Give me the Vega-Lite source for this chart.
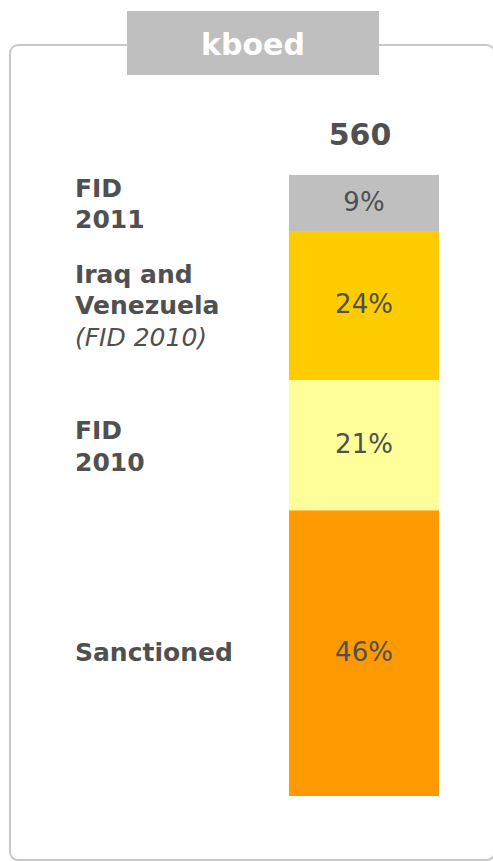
{
  "$schema": "https://vega.github.io/schema/vega-lite/v6.json",
  "width": 493,
  "height": 861,
  "autosize": {"type": "fit", "contains": "padding"},
  "padding": 0,
  "background": "white",
  "config": {"view": {"stroke": null}},
  "data": {
    "values": [
      {"segment": "Sanctioned", "label": "Sanctioned", "note": "", "share": 0.46, "order": 1},
      {"segment": "FID 2010", "label": "FID\n2010", "note": "", "share": 0.21, "order": 2},
      {"segment": "Iraq and Venezuela", "label": "Iraq and\nVenezuela", "note": "(FID 2010)", "share": 0.24, "order": 3},
      {"segment": "FID 2011", "label": "FID\n2011", "note": "", "share": 0.09, "order": 4}
    ]
  },
  "transform": [
    {"stack": "share", "groupby": [], "sort": [{"field": "order", "order": "ascending"}], "as": ["y0", "y1"]},
    {"calculate": "(datum.y0 + datum.y1) / 2", "as": "mid"}
  ],
  "encoding": {
    "x": {"type": "quantitative", "scale": {"domain": [0, 100], "nice": false, "zero": false}, "axis": null},
    "y": {"type": "quantitative", "scale": {"domain": [-0.10467, 1.2818], "nice": false, "zero": false}, "axis": null}
  },
  "layer": [
    {
      "data": {"values": [{}]},
      "mark": {"type": "rect", "fill": null, "stroke": "#C8C8C8", "strokeWidth": 2, "cornerRadius": 8, "clip": true},
      "encoding": {
        "x": {"datum": 2.03, "type": "quantitative"},
        "x2": {"datum": 100.3},
        "y": {"datum": 1.20934, "type": "quantitative"},
        "y2": {"datum": -0.1031}
      }
    },
    {
      "data": {"values": [{}]},
      "mark": {"type": "rect", "fill": "#BFBFBF"},
      "encoding": {
        "x": {"datum": 25.76, "type": "quantitative"},
        "x2": {"datum": 76.88},
        "y": {"datum": 1.26409, "type": "quantitative"},
        "y2": {"datum": 1.16103}
      }
    },
    {
      "data": {"values": [{}]},
      "mark": {"type": "text", "text": "kboed", "font": "DejaVu Sans", "fontWeight": "bold", "fontSize": 30, "color": "white", "align": "center", "baseline": "alphabetic"},
      "encoding": {
        "x": {"datum": 51.32, "type": "quantitative"},
        "y": {"datum": 1.19275, "type": "quantitative"}
      }
    },
    {
      "data": {"values": [{}]},
      "mark": {"type": "text", "text": "560", "font": "DejaVu Sans", "fontWeight": "bold", "fontSize": 30, "color": "#505050", "align": "center", "baseline": "alphabetic"},
      "encoding": {
        "x": {"datum": 73.02, "type": "quantitative"},
        "y": {"datum": 1.04783, "type": "quantitative"}
      }
    },
    {
      "mark": {"type": "rect"},
      "encoding": {
        "x": {"datum": 58.62, "type": "quantitative"},
        "x2": {"datum": 89.05},
        "y": {"field": "y0", "type": "quantitative"},
        "y2": {"field": "y1"},
        "color": {
          "field": "segment",
          "type": "nominal",
          "scale": {
            "domain": ["Sanctioned", "FID 2010", "Iraq and Venezuela", "FID 2011"],
            "range": ["#FF9900", "#FFFF99", "#FFCC00", "#BFBFBF"]
          },
          "legend": null
        }
      }
    },
    {
      "mark": {"type": "text", "font": "DejaVu Sans", "fontSize": 26, "color": "#505050", "align": "center", "baseline": "middle"},
      "encoding": {
        "x": {"datum": 73.83, "type": "quantitative"},
        "y": {"field": "mid", "type": "quantitative"},
        "text": {"field": "share", "type": "quantitative", "format": ".0%"}
      }
    },
    {
      "transform": [{"filter": "datum.segment == 'Sanctioned'"}],
      "mark": {"type": "text", "font": "DejaVu Sans", "fontWeight": "bold", "fontSize": 25, "color": "#505050", "align": "left", "baseline": "middle"},
      "encoding": {
        "x": {"datum": 15.21, "type": "quantitative"},
        "y": {"field": "mid", "type": "quantitative"},
        "text": {"field": "label", "type": "nominal"}
      }
    },
    {
      "transform": [{"filter": "datum.segment == 'FID 2010' || datum.segment == 'FID 2011'"}],
      "mark": {"type": "text", "font": "DejaVu Sans", "fontWeight": "bold", "fontSize": 25, "lineHeight": 31.5, "dy": -14, "color": "#505050", "align": "left", "baseline": "middle", "lineBreak": "\n"},
      "encoding": {
        "x": {"datum": 15.21, "type": "quantitative"},
        "y": {"field": "mid", "type": "quantitative"},
        "text": {"field": "label", "type": "nominal"}
      }
    },
    {
      "transform": [{"filter": "datum.segment == 'Iraq and Venezuela'"}],
      "mark": {"type": "text", "font": "DejaVu Sans", "fontWeight": "bold", "fontSize": 25, "lineHeight": 31.5, "dy": -30.5, "color": "#505050", "align": "left", "baseline": "middle", "lineBreak": "\n"},
      "encoding": {
        "x": {"datum": 15.21, "type": "quantitative"},
        "y": {"field": "mid", "type": "quantitative"},
        "text": {"field": "label", "type": "nominal"}
      }
    },
    {
      "transform": [{"filter": "datum.note != ''"}],
      "mark": {"type": "text", "font": "DejaVu Sans", "fontStyle": "italic", "fontSize": 25, "dy": 32.5, "color": "#505050", "align": "left", "baseline": "middle"},
      "encoding": {
        "x": {"datum": 15.21, "type": "quantitative"},
        "y": {"field": "mid", "type": "quantitative"},
        "text": {"field": "note", "type": "nominal"}
      }
    }
  ]
}
